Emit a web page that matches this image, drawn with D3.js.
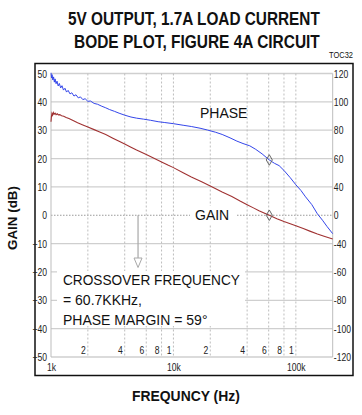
<!DOCTYPE html>
<html>
<head>
<meta charset="utf-8">
<script src="https://cdn.jsdelivr.net/npm/d3@7"></script>
<style>
  body { margin: 0; background: #fff; }
  svg { display: block; }
</style>
</head>
<body>
<svg id="chart" width="362" height="415"></svg>
<script>
// Loop gain magnitude (dB) vs frequency (Hz)
const gainFreq = [1000, 1008, 1018, 1030, 1045, 1060, 1080, 1100, 1125, 1150, 1180, 1220, 1270, 1330, 1400, 1500, 1650, 1800, 2000, 2250, 2500, 2800, 3200, 3600, 4000, 4500, 5000, 6000, 7000, 8000, 9000, 10000, 12000, 14000, 17000, 20000, 25000, 30000, 35000, 40000, 45000, 50000, 55000, 60700, 70000, 80000, 90000, 100000, 115000, 130000, 150000, 170000, 200000];
const gainDb = [33.0, 34.8, 35.9, 35.3, 36.2, 35.6, 36.0, 35.5, 35.8, 35.4, 35.5, 35.1, 34.9, 34.5, 34.1, 33.5, 32.6, 31.9, 31.1, 30.2, 29.4, 28.5, 27.2, 26.1, 25.1, 24.0, 23.0, 21.4, 20.0, 18.8, 17.7, 16.8, 15.0, 13.5, 11.8, 10.3, 8.2, 6.6, 5.0, 3.7, 2.6, 1.6, 0.8, 0.0, -1.2, -2.2, -3.0, -3.7, -4.7, -5.6, -6.6, -7.4, -8.4];

// Loop phase (degrees) vs frequency (Hz)
const phaseFreq = [1000, 1010, 1020, 1035, 1050, 1065, 1080, 1100, 1120, 1145, 1170, 1200, 1230, 1265, 1300, 1340, 1380, 1430, 1480, 1540, 1600, 1670, 1740, 1820, 1900, 2000, 2100, 2250, 2400, 2600, 2800, 3000, 3300, 3600, 4000, 4500, 5000, 5700, 6500, 7500, 8500, 10000, 12000, 14000, 16500, 19000, 22000, 25000, 29000, 33000, 37000, 42000, 47000, 53000, 60700, 67000, 73000, 80000, 90000, 100000, 110000, 120000, 135000, 150000, 165000, 180000, 200000];
const phaseDeg = [120.5, 116.8, 119.2, 115.4, 117.6, 113.9, 116.2, 112.8, 114.6, 111.2, 113.0, 109.8, 111.4, 108.3, 109.6, 106.9, 108.1, 105.6, 106.4, 104.1, 105.0, 102.8, 103.5, 101.6, 102.2, 100.4, 100.6, 98.9, 98.3, 96.9, 95.8, 94.6, 93.3, 92.0, 90.6, 89.3, 88.5, 87.8, 87.0, 86.0, 85.4, 84.6, 83.5, 82.6, 81.4, 80.1, 78.6, 77.0, 74.6, 72.3, 70.6, 69.0, 66.5, 63.3, 59.0, 56.6, 55.0, 51.6, 46.5, 41.5, 37.5, 33.0, 27.5, 21.0, 16.5, 12.0, 7.0];

// Axis ticks and labels
const gainTicks = [50, 40, 30, 20, 10, 0, -10, -20, -30, -40, -50];
const phaseTickLabels = ["120", "100", "80", "60", "40", "0", "-40", "-60", "-80", "-100", "-120"];
const gridFreqs = [1000, 2000, 4000, 6000, 8000, 10000, 20000, 40000, 60000, 80000, 100000, 200000];
const minorFreqs = [2000, 4000, 6000, 8000, 10000, 20000, 40000, 60000, 80000, 100000];
const minorLabels = ["2", "4", "6", "8", "1", "2", "4", "6", "8", "1"];
const majorFreqs = [1000, 10000, 100000];
const majorLabels = ["1k", "10k", "100k"];

// Crossover point
const crossoverHz = 60700;
const crossoverDb = 0;
const phaseMargin = 59;
const arrowHz = 5140;

const svg = d3.select("#chart");
const sans = "'Liberation Sans', Arial, sans-serif";
const tickSquash = 0.78;

const x = d3.scaleLog().domain([1000, 200000]).range([51, 332.7]);
const yGain = d3.scaleLinear().domain([-50, 50]).range([357, 73.5]);
const yPhase = d3.scaleLinear().domain([-80, 120]).range([357, 73.5]);

// Text squeezed horizontally to a target width (condensed look)
function fitText(parent, tx, ty, width, str, size, weight, anchor) {
  const g = parent.append("g").attr("transform", `translate(${tx},${ty})`);
  const t = g.append("text").attr("font-family", sans).attr("font-size", size)
    .attr("font-weight", weight || "normal").attr("fill", "#111")
    .attr("text-anchor", anchor || "start").text(str);
  const natural = t.node().getComputedTextLength();
  t.attr("transform", `scale(${width / natural},1)`);
  return g;
}

// Outer frame
svg.append("rect")
  .attr("x", 35).attr("y", 63.5).attr("width", 318).attr("height", 312)
  .attr("fill", "none").attr("stroke", "#111").attr("stroke-width", 1.5);

// Titles
fitText(svg, 68, 25, 252, "5V OUTPUT, 1.7A LOAD CURRENT", 18, "bold");
fitText(svg, 74, 48, 246, "BODE PLOT, FIGURE 4A CIRCUIT", 18, "bold");
fitText(svg, 353, 57.5, 24, "TOC32", 8.5, "normal", "end");

// Grid
const grid = svg.append("g");
grid.selectAll("line.h").data(gainTicks).join("line")
  .attr("x1", x(1000)).attr("x2", x(200000))
  .attr("y1", d => yGain(d)).attr("y2", d => yGain(d))
  .attr("stroke", d => d === 0 ? "#9a9a9a" : "#cfcfcf")
  .attr("stroke-width", d => d === 0 ? 1 : 1.3)
  .attr("stroke-dasharray", d => d === 0 ? "1.5,1.5" : null);
grid.selectAll("line.v").data(gridFreqs).join("line")
  .attr("x1", d => x(d)).attr("x2", d => x(d))
  .attr("y1", yGain(50)).attr("y2", yGain(-50))
  .attr("stroke", "#bdbdbd").attr("stroke-width", 1)
  .attr("stroke-dasharray", d => (d === 1000 || d === 200000) ? null : "2,2");

// Annotation boxes (white backing)
svg.append("rect").attr("x", 57).attr("y", 271).attr("width", 188).attr("height", 55).attr("fill", "#fff");
svg.append("rect").attr("x", 190).attr("y", 206).attr("width", 47).attr("height", 18).attr("fill", "#fff");

// Crossover arrow
const ax = x(arrowHz);
svg.append("line").attr("x1", ax).attr("x2", ax).attr("y1", yGain(0)).attr("y2", 258)
  .attr("stroke", "#a8a8a8").attr("stroke-width", 1.2);
svg.append("path")
  .attr("d", `M${ax - 4},258 L${ax + 4},258 L${ax},267.5 Z`)
  .attr("fill", "#fff").attr("stroke", "#a8a8a8").attr("stroke-width", 1);

// Axes
const styleTicks = sel => sel.selectAll("text")
  .attr("font-family", sans).attr("font-size", 11).attr("fill", "#222")
  .attr("transform", `scale(${tickSquash},1)`);

const leftAxis = svg.append("g").attr("transform", `translate(${x(1000)},0)`)
  .call(d3.axisLeft(yGain).tickValues(gainTicks).tickSize(0).tickPadding(5));
leftAxis.select(".domain").remove();
styleTicks(leftAxis);

const rightAxis = svg.append("g").attr("transform", `translate(${x(200000)},0)`)
  .call(d3.axisRight(yGain).tickValues(gainTicks).tickSize(0).tickPadding(1.5)
    .tickFormat((d, i) => phaseTickLabels[i]));
rightAxis.select(".domain").remove();
styleTicks(rightAxis);

const bottomAxis = svg.append("g").attr("transform", `translate(0,${yGain(-50)})`)
  .call(d3.axisBottom(x).tickValues(majorFreqs).tickSize(0).tickPadding(6)
    .tickFormat((d, i) => majorLabels[i]));
bottomAxis.select(".domain").remove();
styleTicks(bottomAxis);

svg.append("g").selectAll("g").data(minorFreqs).join("g")
  .attr("transform", d => `translate(${x(d) - 2},354)`)
  .append("text").attr("text-anchor", "end")
  .attr("font-family", sans).attr("font-size", 11).attr("fill", "#222")
  .attr("transform", `scale(${tickSquash},1)`)
  .text((d, i) => minorLabels[i]);

// Axis titles
const yTitle = svg.append("g").attr("transform", "translate(17,218) rotate(-90)");
fitText(yTitle, 0, 0, 64, "GAIN (dB)", 13, "bold", "middle");
fitText(svg, 132, 401, 108, "FREQUNCY (Hz)", 14, "bold");

// Curves
const gainLine = d3.line().x(d => x(d[0])).y(d => yGain(d[1]));
const phaseLine = d3.line().x(d => x(d[0])).y(d => yPhase(d[1]));

svg.append("path").datum(gainFreq.map((f, i) => [f, gainDb[i]]))
  .attr("d", gainLine).attr("fill", "none")
  .attr("stroke", "#a03232").attr("stroke-width", 1.1);
svg.append("path").datum(phaseFreq.map((f, i) => [f, phaseDeg[i]]))
  .attr("d", phaseLine).attr("fill", "none")
  .attr("stroke", "#3446ea").attr("stroke-width", 1);

// Crossover markers
const diamond = d3.symbol().type(d3.symbolDiamond).size(32);
[[crossoverHz, yGain(crossoverDb)], [crossoverHz, yPhase(phaseMargin)]].forEach(p => {
  svg.append("path").attr("d", diamond)
    .attr("transform", `translate(${x(p[0])},${p[1]})`)
    .attr("fill", "none").attr("stroke", "#666").attr("stroke-width", 1);
});

// Labels
const label = (tx, ty, t) => svg.append("text").attr("x", tx).attr("y", ty)
  .attr("font-family", sans).attr("font-size", 14).attr("fill", "#111").text(t);
label(200, 118, "PHASE");
label(195, 220, "GAIN");
fitText(svg, 63, 285, 177, "CROSSOVER  FREQUENCY", 14, "normal");
label(63, 305, "= 60.7KKHz,");
label(63, 325, "PHASE MARGIN = 59°");
</script>
</body>
</html>
